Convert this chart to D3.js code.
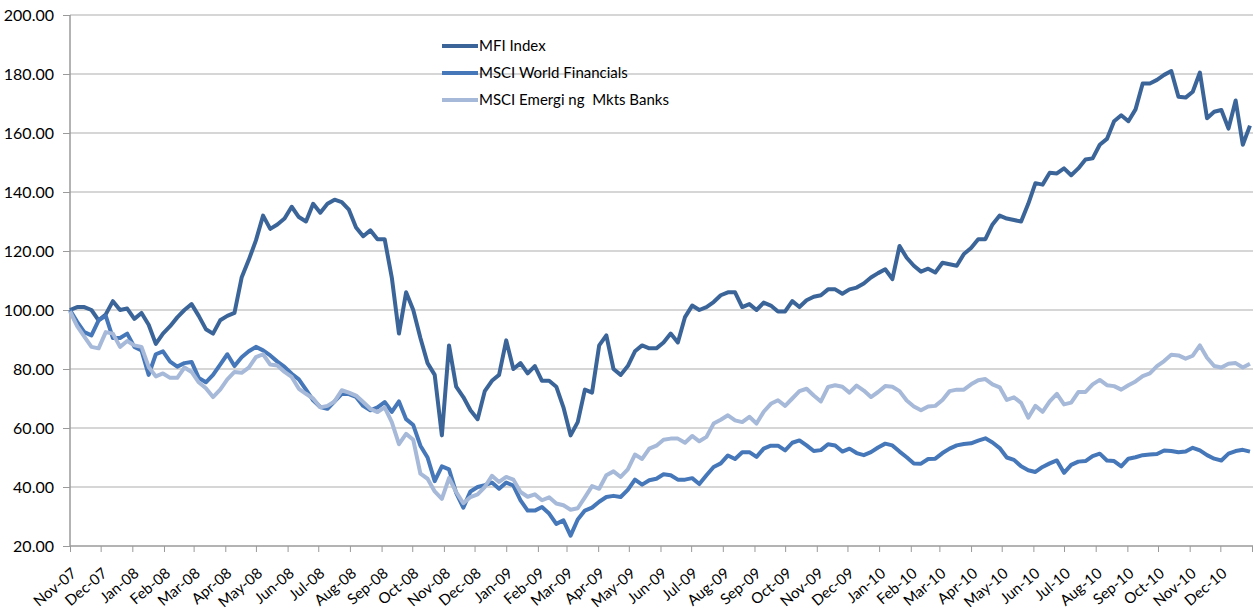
<!DOCTYPE html>
<html>
<head>
<meta charset="utf-8">
<script src="https://cdn.jsdelivr.net/npm/d3@7"></script>
<style>
	body { margin: 0; background: #fff; }
	svg { display: block; font-family: Lato, "Open Sans", sans-serif; }
</style>
</head>
<body>
<div id="chart"></div>
<script>
// Weekly readings, first week is 1 Nov 2007
var startDate = "2007-11-01";

var mfiIndex = [
	100, 101, 101, 100, 96.5, 98.5, 103, 100, 100.5, 97,
	99, 95, 88.5, 92, 94.5, 97.5, 100, 102, 98, 93.5,
	92, 96.5, 98, 99, 111, 117, 123.6, 132, 127.5, 129,
	131, 135, 131.5, 130, 136, 133, 136, 137.4, 136.6, 134,
	128, 125, 127, 124, 124, 111, 92, 106, 100, 90.5,
	82, 78, 57.5, 88, 74, 70.5, 66, 63, 72.5, 76,
	78, 89.7, 80, 82, 78.5, 81, 76, 76, 74, 67,
	57.5, 62, 73, 72, 88, 91.4, 80, 78, 81, 86,
	88, 87, 87, 89, 92, 89, 97.6, 101.5, 100, 101,
	102.7, 105, 106, 106, 101, 102, 100, 102.5, 101.5, 99.5,
	99.5, 103, 101, 103.3, 104.5, 105, 107, 107, 105.5, 107,
	107.6, 109, 111, 112.5, 113.8, 110.5, 121.7, 117.7, 115, 113,
	114, 112.7, 116, 115.5, 115, 119, 121, 124, 124, 129,
	132, 131, 130.5, 130, 136, 143, 142.5, 146.5, 146.3, 148,
	145.7, 148, 151, 151.4, 156, 158, 164, 166, 164, 168,
	176.8, 176.8, 178, 179.7, 181, 172.3, 172, 174, 180.5, 165,
	167.2, 167.8, 161.5, 171, 156, 162.5
];

var worldFinancials = [
	100, 96, 92.5, 91.4, 96.5, 98, 90.5, 90.5, 92, 87.5,
	86.3, 78, 85, 86, 82.5, 80.8, 82, 82.4, 77, 75.5,
	78, 81.5, 85, 81, 84, 86, 87.5, 86.3, 84.6, 82.5,
	80.7, 78.4, 76.5, 73, 69.4, 67.1, 66.5, 69, 71.6, 71.5,
	70.5, 67.5, 66, 67, 68.8, 65.5, 69, 63, 61, 54,
	50, 42, 47, 46, 38, 33, 38.5, 40, 40.6, 41.5,
	39.4, 41.5, 40.5, 35.5, 32, 32, 33.2, 31, 27.5, 28.7,
	23.5, 29, 32, 33, 35, 36.6, 37, 36.6, 39, 42.5,
	40.8, 42.3, 42.8, 44.3, 44, 42.5, 42.5, 43, 41, 44,
	46.8, 48, 50.7, 49.5, 51.8, 51.8, 50.2, 53, 54, 54,
	52.4, 55, 55.8, 54.1, 52.2, 52.5, 54.5, 54.1, 52, 53,
	51.5, 50.8, 51.8, 53.4, 54.7, 54.1, 52, 50.1, 48, 47.9,
	49.5, 49.6, 51.5, 53, 54.1, 54.6, 54.8, 55.7, 56.5, 55.1,
	53.2, 50, 49.2, 47, 45.7, 45.1, 46.8, 48, 49, 44.8,
	47.5, 48.6, 48.8, 50.5, 51.3, 49, 48.8, 47, 49.6, 50.1,
	50.8, 51, 51.2, 52.4, 52.2, 51.8, 52, 53.3, 52.4, 50.8,
	49.6, 49, 51.3, 52.2, 52.6, 52
];

var emergingBanks = [
	99.5, 94.5, 91, 87.5, 87, 92.5, 92, 87.5, 89.5, 88,
	87.5, 80.7, 77.5, 78.5, 77, 77, 80.5, 79, 75.5, 73.5,
	70.5, 73, 76.5, 79, 78.7, 80.5, 84, 85, 81.5, 81.2,
	79, 77.3, 73.3, 71.6, 70, 67, 67.5, 69, 72.8, 72,
	71, 68.8, 66.5, 65.4, 67, 62, 54.5, 58, 56, 44.5,
	42.8, 38.5, 36, 43, 38.3, 34.5, 36.6, 37.5, 40, 43.8,
	41.7, 43.4, 42.5, 38.3, 36.7, 37.5, 35.5, 36.5, 34.4, 33.8,
	32.3, 32.8, 36.5, 40.3, 39.4, 44, 45.3, 43.4, 46, 51,
	49.5, 53, 54, 56, 56.4, 56.4, 55, 57.3, 55.5, 57,
	61.5, 62.8, 64.3, 62.6, 62, 63.8, 61.5, 65.5, 68.2, 69.4,
	67.5, 70, 72.5, 73.3, 71, 69, 73.9, 74.5, 74, 72,
	74.4, 72.7, 70.5, 72.2, 74.2, 74, 72.5, 69.3, 67.3, 66,
	67.3, 67.5, 69.5, 72.5, 73, 73, 74.8, 76.2, 76.6, 74.8,
	73.8, 69.5, 70.4, 68.5, 63.5, 67.5, 65.5, 69, 71.6, 68,
	68.6, 72.2, 72.2, 74.8, 76.3, 74.5, 74.2, 73, 74.5, 75.8,
	77.6, 78.5, 81, 82.7, 84.8, 84.6, 83.5, 84.5, 88, 83.8,
	81, 80.5, 81.8, 82, 80.5, 81.8
];

var seriesNames = ["MFI Index", "MSCI World Financials", "MSCI Emergi ng  Mkts Banks"];
var seriesColors = ["#3b6599", "#4577b9", "#a6b9d8"];
var yTicks = [20, 40, 60, 80, 100, 120, 140, 160, 180, 200];

// Canvas
var width = 1254, height = 610;
var plot = { left: 70, right: 1253, top: 15, bottom: 546 };

var parse = d3.timeParse("%Y-%m-%d");
var start = parse(startDate);
var dates = mfiIndex.map(function(d, i) {
	return d3.timeDay.offset(start, i * 7);
});

var x = d3.scaleTime()
	.domain([start, parse("2011-01-01")])
	.range([plot.left, plot.right - 1]);
var y = d3.scaleLinear()
	.domain([20, 200])
	.range([plot.bottom, plot.top]);

var svg = d3.select("#chart")
	.append("svg")
	.attr("width", width)
	.attr("height", height);

// Gridlines and y labels
var yAxis = svg.append("g")
	.attr("transform", "translate(" + plot.left + ",0)")
	.call(d3.axisLeft(y)
		.tickValues(yTicks)
		.tickSize(7)
		.tickPadding(9)
		.tickFormat(d3.format(".2f")));
yAxis.select(".domain").remove();
yAxis.selectAll(".tick line").attr("stroke", "#9a9a9a");
yAxis.selectAll(".tick text")
	.attr("font-size", "16px")
	.attr("font-family", "Lato, sans-serif")
	.attr("fill", "#000");

svg.append("g")
	.selectAll("line")
	.data(yTicks.filter(function(d) { return d > 20; }))
	.enter()
	.append("line")
	.attr("x1", plot.left)
	.attr("x2", plot.right)
	.attr("y1", function(d) { return y(d); })
	.attr("y2", function(d) { return y(d); })
	.attr("stroke", "#c8c8c8")
	.attr("stroke-width", 1.5);

// X axis, monthly ticks
var months = d3.timeMonth.range(start, parse("2011-01-02"));
var xAxis = svg.append("g")
	.attr("transform", "translate(0," + plot.bottom + ")")
	.call(d3.axisBottom(x)
		.tickValues(months)
		.tickSize(6)
		.tickFormat(function(d) {
			return d.getFullYear() > 2010 ? "" : d3.timeFormat("%b-%y")(d);
		}));
xAxis.select(".domain").remove();
xAxis.selectAll(".tick line").attr("stroke", "#9a9a9a");
xAxis.selectAll(".tick text")
	.attr("font-size", "15px")
	.attr("font-family", "Lato, sans-serif")
	.attr("fill", "#000")
	.attr("text-anchor", "end")
	.attr("dy", null)
	.attr("y", 0)
	.attr("transform", "translate(7,29) rotate(-40)");

// Axis lines
svg.append("line")
	.attr("x1", plot.left).attr("x2", plot.right)
	.attr("y1", plot.bottom).attr("y2", plot.bottom)
	.attr("stroke", "#9a9a9a").attr("stroke-width", 1.5);
svg.append("line")
	.attr("x1", plot.left).attr("x2", plot.left)
	.attr("y1", plot.top).attr("y2", plot.bottom)
	.attr("stroke", "#9a9a9a").attr("stroke-width", 1.5);

// Lines
var line = d3.line()
	.x(function(d) { return x(d.date); })
	.y(function(d) { return y(d.value); });

var allSeries = [mfiIndex, worldFinancials, emergingBanks];
allSeries.forEach(function(values, k) {
	svg.append("path")
		.datum(values.map(function(v, i) { return { date: dates[i], value: v }; }))
		.attr("fill", "none")
		.attr("stroke", seriesColors[k])
		.attr("stroke-width", 4)
		.attr("stroke-linejoin", "round")
		.attr("d", line);
});

// Legend
var legend = svg.append("g")
	.selectAll("g")
	.data(seriesNames)
	.enter()
	.append("g")
	.attr("transform", function(d, i) {
		return "translate(442," + (46 + i * 27) + ")";
	});
legend.append("line")
	.attr("x1", 0).attr("x2", 36)
	.attr("stroke", function(d, i) { return seriesColors[i]; })
	.attr("stroke-width", 4);
legend.append("text")
	.attr("x", 37)
	.attr("y", 5)
	.attr("font-size", "15px")
	.attr("xml:space", "preserve")
	.style("white-space", "pre")
	.text(function(d) { return d; });
</script>
</body>
</html>
